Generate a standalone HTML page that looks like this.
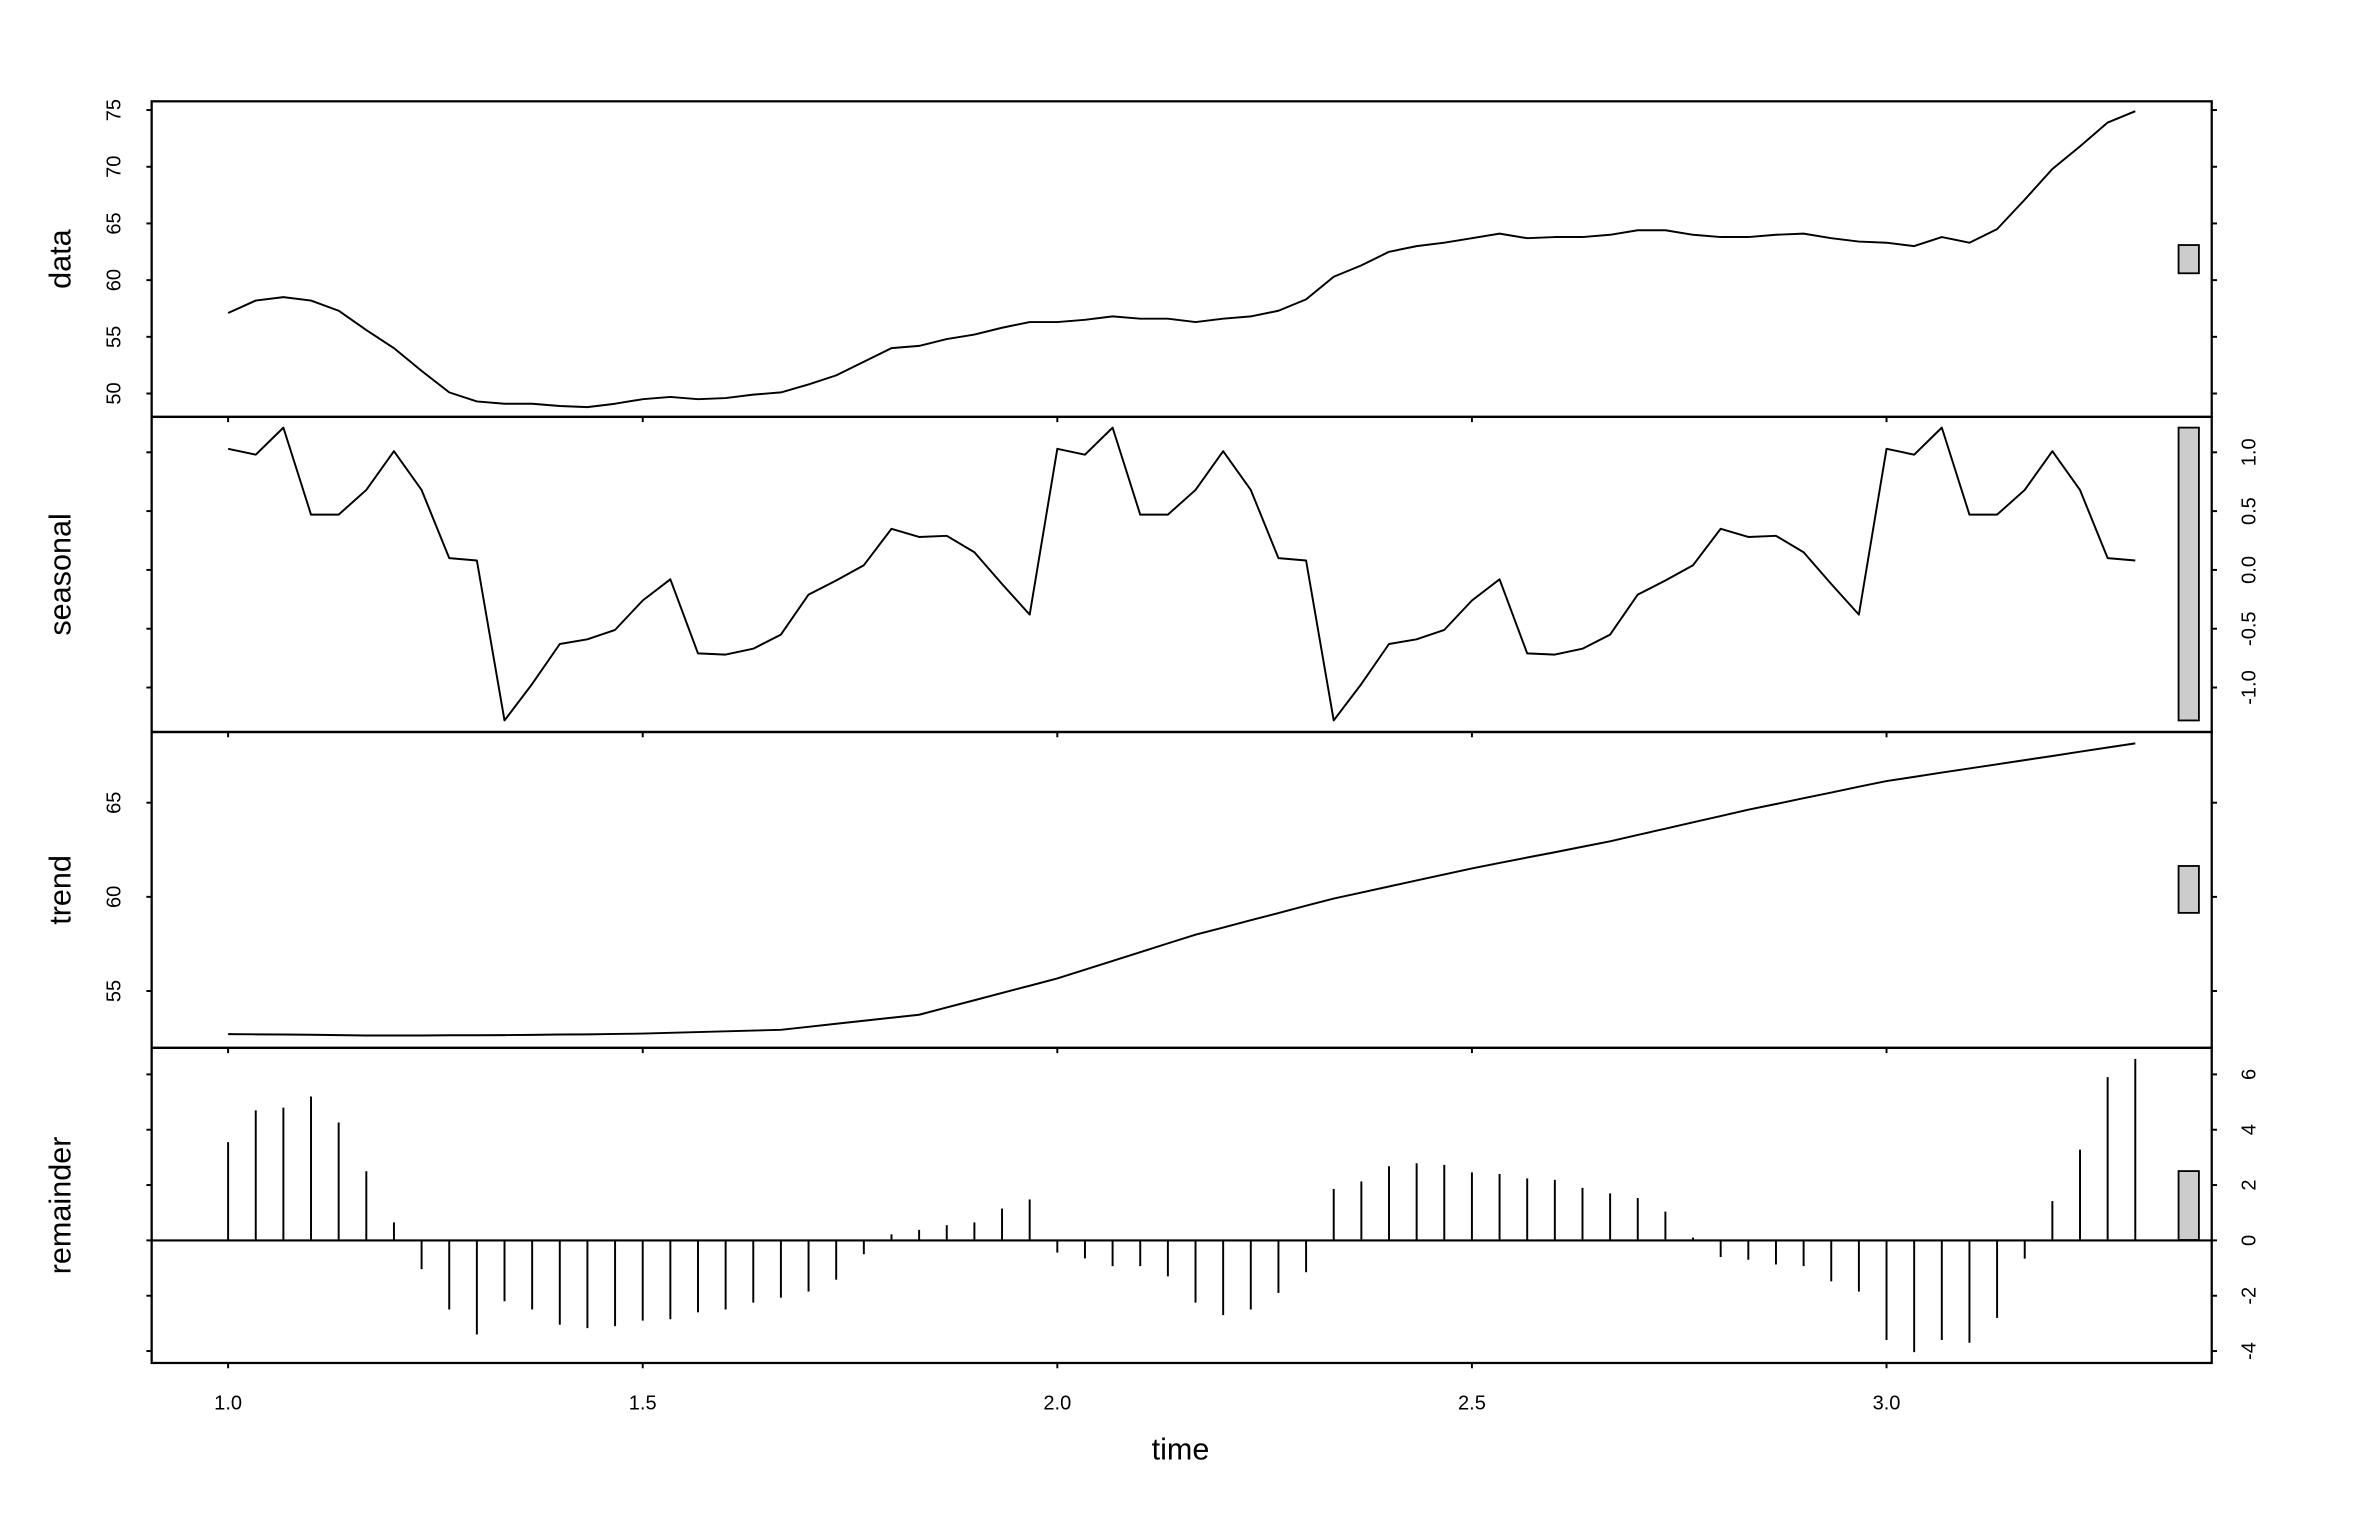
<!DOCTYPE html>
<html><head><meta charset="utf-8"><style>
html,body{margin:0;padding:0;background:#fff;}
svg{display:block;}
text{font-family:"Liberation Sans",Arial,sans-serif;fill:#000;}
</style></head><body>
<svg id="chart" width="2364" height="1516" viewBox="0 0 1568 1005.5" preserveAspectRatio="none" xmlns="http://www.w3.org/2000/svg"></svg>
<script>
const startTime = 1.0;
const step = 1/30;
const dataValues = [57.1,58.2,58.5,58.2,57.3,55.6,54.0,52.0,50.1,49.3,49.1,49.1,48.9,48.8,49.1,49.5,49.7,49.5,49.6,49.9,50.1,50.8,51.6,52.8,54.0,54.2,54.8,55.2,55.8,56.3,56.3,56.5,56.8,56.6,56.6,56.3,56.6,56.8,57.3,58.3,60.3,61.3,62.5,63.0,63.3,63.7,64.1,63.7,63.8,63.8,64.0,64.4,64.4,64.0,63.8,63.8,64.0,64.1,63.7,63.4,63.3,63.0,63.8,63.3,64.5,67.1,69.8,71.8,73.9,74.9];
const seasonalPattern = [1.03,0.98,1.21,0.47,0.47,0.68,1.01,0.68,0.10,0.08,-1.28,-0.97,-0.63,-0.59,-0.51,-0.26,-0.08,-0.71,-0.72,-0.67,-0.55,-0.21,-0.09,0.04,0.35,0.28,0.29,0.15,-0.12,-0.38];
const trendValues = [52.71,52.70,52.69,52.68,52.66,52.64,52.64,52.64,52.65,52.65,52.66,52.67,52.69,52.70,52.72,52.74,52.78,52.82,52.86,52.90,52.94,53.10,53.26,53.42,53.58,53.74,54.13,54.51,54.90,55.28,55.67,56.13,56.60,57.06,57.53,57.99,58.37,58.76,59.14,59.53,59.91,60.23,60.55,60.87,61.19,61.51,61.80,62.09,62.37,62.66,62.95,63.29,63.62,63.96,64.29,64.63,64.93,65.24,65.54,65.85,66.15,66.37,66.60,66.82,67.04,67.26,67.48,67.71,67.93,68.15];
const remainderValues = [3.55,4.7,4.8,5.2,4.26,2.5,0.65,-1.04,-2.5,-3.4,-2.2,-2.5,-3.05,-3.17,-3.1,-2.9,-2.85,-2.6,-2.5,-2.25,-2.07,-1.85,-1.42,-0.5,0.22,0.38,0.55,0.65,1.15,1.48,-0.44,-0.65,-0.93,-0.93,-1.3,-2.25,-2.7,-2.5,-1.9,-1.15,1.86,2.13,2.68,2.79,2.73,2.46,2.4,2.24,2.19,1.9,1.7,1.53,1.04,0.1,-0.6,-0.7,-0.87,-0.93,-1.48,-1.85,-3.6,-4.04,-3.6,-3.7,-2.8,-0.66,1.42,3.28,5.9,6.56];
const xTicks = [1.0,1.5,2.0,2.5,3.0];
const xTickLabels = ["1.0","1.5","2.0","2.5","3.0"];
const dataTicks = [50,55,60,65,70,75];
const seasonalTicks = [-1.0,-0.5,0.0,0.5,1.0];
const seasonalTickLabels = ["-1.0","-0.5","0.0","0.5","1.0"];
const trendTicks = [55,60,65];
const remainderTicks = [-4,-2,0,2,4,6];

const NS = "http://www.w3.org/2000/svg";
const svg = document.getElementById('chart');
const L = 100.6, R = 1467;
const xs = t => 151.3 + (t - 1) * 550;
const yData = v => 73 + (75 - v) * 7.52;
const ySeas = v => 378 - v * 78;
const yTrend = v => 532.4 + (65 - v) * 12.49;
const yRem = v => 822.7 - v * 18.35;
const panels = [
  {name:'data', top:67.2, bot:276.5, y:yData, ticks:dataTicks, labels:dataTicks.map(String), side:'left'},
  {name:'seasonal', top:276.5, bot:485.5, y:ySeas, ticks:seasonalTicks, labels:seasonalTickLabels, side:'right'},
  {name:'trend', top:485.5, bot:695, y:yTrend, ticks:trendTicks, labels:trendTicks.map(String), side:'left'},
  {name:'remainder', top:695, bot:904, y:yRem, ticks:remainderTicks, labels:remainderTicks.map(String), side:'right'}
];
function mk(tag, attrs){const e=document.createElementNS(NS,tag);for(const k in attrs)e.setAttribute(k,attrs[k]);svg.appendChild(e);return e;}
const times = dataValues.map((_, i) => startTime + i * step);
const seasonalValues = dataValues.map((_, i) => seasonalPattern[i % seasonalPattern.length]);
const seriesMap = {data:dataValues, seasonal:seasonalValues, trend:trendValues, remainder:remainderValues};
const barLen = Math.max(...seasonalValues) - Math.min(...seasonalValues);

panels.forEach(p => {
  const vals = seriesMap[p.name];
  if (p.name === 'remainder') {
    const z = mk('line',{x1:L,x2:R,y1:p.y(0),y2:p.y(0),stroke:'#000','stroke-width':1.4});
    
    
    vals.forEach((v,i) => {
      const s = mk('line',{x1:xs(times[i]),x2:xs(times[i]),y1:p.y(0),y2:p.y(v),stroke:'#000','stroke-width':1.3});
      
      
    });
  } else {
    const pts = vals.map((v,i)=>xs(times[i]).toFixed(2)+','+p.y(v).toFixed(2)).join(' ');
    const pl = mk('polyline',{points:pts,fill:'none',stroke:'#000','stroke-width':1.3,'stroke-linejoin':'round'});
    
    
  }
  // range bar
  const mid = (Math.max(...vals) + Math.min(...vals)) / 2;
  const yb1 = p.y(mid + barLen/2), yb2 = p.y(mid - barLen/2);
  const bar = mk('rect',{x:1445,y:Math.min(yb1,yb2),width:13.5,height:Math.abs(yb2-yb1),fill:'#cccccc',stroke:'#000','stroke-width':1.2});
  
  
  // box
  const box = mk('rect',{x:L,y:p.top,width:R-L,height:p.bot-p.top,fill:'none',stroke:'#000','stroke-width':1.5});
  
  
  // y ticks both sides
  p.ticks.forEach((t,i) => {
    const y = p.y(t);
    const tl = mk('line',{x1:L-3.5,x2:L,y1:y,y2:y,stroke:'#000','stroke-width':1.3});
    
    
    const tr = mk('line',{x1:R,x2:R+3.5,y1:y,y2:y,stroke:'#000','stroke-width':1.3});
    
    
    const lx = p.side === 'left' ? 76 : 1492;
    const lab = mk('text',{x:0,y:0,transform:`translate(${lx},${y}) rotate(-90)`,'text-anchor':'middle','dominant-baseline':'central','font-size':13.3});
    lab.textContent = p.labels[i];
    
    
  });
  // x ticks at bottom of each panel
  xTicks.forEach(t => {
    const xt = mk('line',{x1:xs(t),x2:xs(t),y1:p.bot,y2:p.bot+3.5,stroke:'#000','stroke-width':1.3});
    
    
  });
  // panel title
  const tx = 40;
  const ty = (p.top + p.bot)/2;
  const title = mk('text',{x:0,y:0,transform:`translate(${tx},${ty}) rotate(-90)`,'text-anchor':'middle','dominant-baseline':'central','font-size':20.3});
  title.textContent = p.name;
  
  
});
xTicks.forEach((t,i) => {
  const lab = mk('text',{x:xs(t),y:931,'text-anchor':'middle','dominant-baseline':'central','font-size':13.3});
  lab.textContent = xTickLabels[i];
  
  
});
const xt = mk('text',{x:783,y:968,'text-anchor':'middle','font-size':20.3});
xt.textContent = 'time';


</script>
</body></html>
